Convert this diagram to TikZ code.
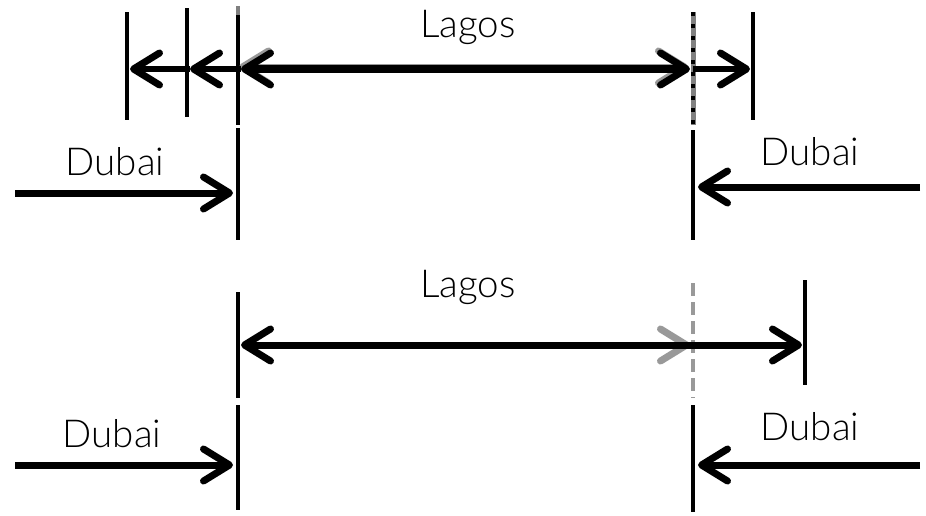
\documentclass[tikz,border=0pt]{standalone}
\usepackage{fontspec}
\setmainfont{Lato Light}
\usetikzlibrary{arrows.meta}
\tikzset{
  barb/.tip={Straight Barb[length=26pt,width=32pt,line width=7pt,line cap=round,line join=round]}
}
\begin{document}
\begin{tikzpicture}[x=1pt,y=-1pt,
  bar/.style={line width=4pt},
  arr/.style={line width=7pt, -barb},
  darr/.style={line width=7pt, barb-barb},
  lbl/.style={font=\fontsize{38.5}{44}\selectfont, inner sep=0pt, anchor=base}]
\useasboundingbox (0,0) rectangle (926,515);
% ---- top section coordinates
\coordinate (b1t) at (127,12);  \coordinate (b1b) at (127,120);
\coordinate (b2t) at (187,8);   \coordinate (b2b) at (187,117);
\coordinate (b3t) at (238,6);   \coordinate (b3m) at (238,15);  \coordinate (b3b) at (238,125);
\coordinate (b4t) at (693,12);  \coordinate (b4b) at (693,125);
\coordinate (b5t) at (753,12);  \coordinate (b5b) at (753,120);
\coordinate (r1) at (130,69); \coordinate (r2) at (190,69); \coordinate (r3) at (241,69);
\coordinate (r4) at (690,69); \coordinate (r5) at (750,69);
\coordinate (g3) at (239,67); \coordinate (g4) at (688,67);
% bars
\draw[bar] (b1t) -- (b1b);
\draw[bar] (b2t) -- (b2b);
\draw[bar,gray] (b3t) -- (b3b);
\draw[bar] (b3m) -- (b3b);
\draw[line width=5pt,gray] (b4t) -- (b4b);
\draw[line width=4pt,dash pattern=on 4pt off 8pt] (b4t) -- (b4b);
\draw[bar] (b5t) -- (b5b);
% arrows
\draw[darr,gray!80] (g3) -- (g4);
\draw[arr,line width=6pt] (r2) -- (r1);
\draw[arr,line width=6pt] (r3) -- (r2);
\draw[darr,line width=8pt] (r3) -- (r4);
\draw[arr,line width=5.5pt] (693,69) -- (r5);
\node[lbl] (lagos1) at (468,37) {Lagos};
% ---- middle
\coordinate (m1t) at (238,128); \coordinate (m1b) at (238,240);
\coordinate (m2t) at (693,130); \coordinate (m2b) at (693,240);
\coordinate (dl0) at (15,193);  \coordinate (dl1) at (233,193);
\coordinate (dr0) at (920,187); \coordinate (dr1) at (698,187);
\draw[bar] (m1t) -- (m1b);
\draw[bar] (m2t) -- (m2b);
\draw[arr] (dl0) -- (dl1);
\draw[arr] (dr0) -- (dr1);
\node[lbl] (dubai1) at (115,175) {Dubai};
\node[lbl] (dubai2) at (810,165) {Dubai};
% ---- bottom section
\coordinate (n1t) at (238,292); \coordinate (n1b) at (238,398);
\coordinate (n2t) at (693,283); \coordinate (n2b) at (693,398);
\coordinate (n3t) at (805,280); \coordinate (n3b) at (805,385);
\coordinate (s1) at (241,345); \coordinate (s2) at (690,345); \coordinate (s3) at (802,345);
\coordinate (s0) at (600,345);
\draw[bar] (n1t) -- (n1b);
\draw[line width=4pt,gray!80,dash pattern=on 13pt off 6pt] (n2t) -- (n2b);
\draw[bar] (n3t) -- (n3b);
\draw[arr,gray!80] (s0) -- (s2);
\draw[darr] (s1) -- (s3);
\node[lbl] (lagos2) at (468,297) {Lagos};
% ---- lower
\coordinate (k1t) at (238,405); \coordinate (k1b) at (238,510);
\coordinate (k2t) at (693,405); \coordinate (k2b) at (693,512);
\coordinate (el0) at (15,465);  \coordinate (el1) at (233,465);
\coordinate (er0) at (920,465); \coordinate (er1) at (698,465);
\draw[bar] (k1t) -- (k1b);
\draw[bar] (k2t) -- (k2b);
\draw[arr] (el0) -- (el1);
\draw[arr] (er0) -- (er1);
\node[lbl] (dubai3) at (112,447) {Dubai};
\node[lbl] (dubai4) at (810,440) {Dubai};
\end{tikzpicture}
\end{document}
